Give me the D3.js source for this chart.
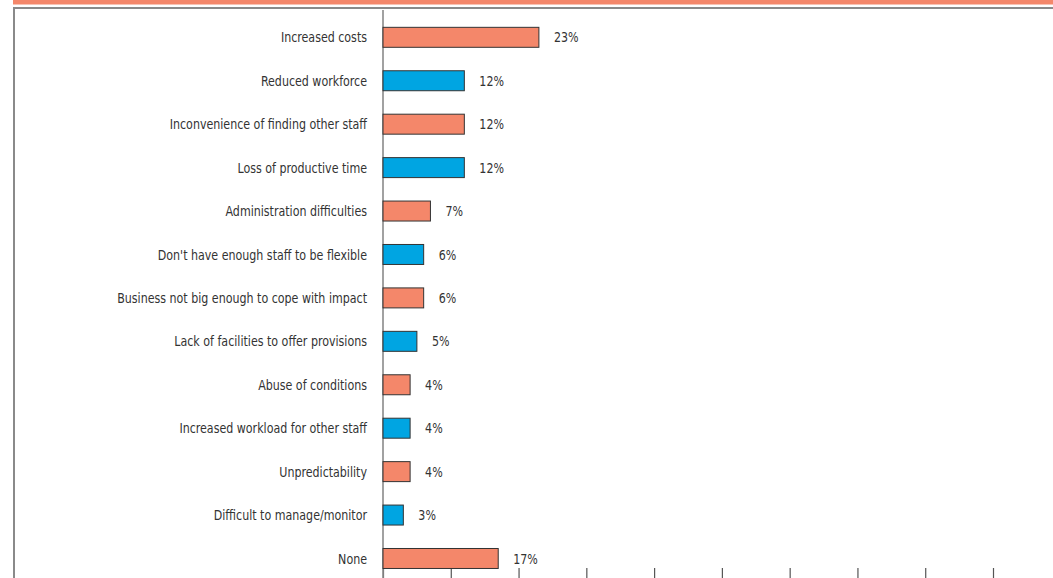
<!DOCTYPE html>
<html>
<head>
<meta charset="utf-8">
<script src="https://cdn.jsdelivr.net/npm/d3@7"></script>
<style>
  html, body { margin: 0; padding: 0; background: #fff; }
  svg { display: block; }
  text { font-family: "DejaVu Sans Condensed", "Liberation Sans Narrow", sans-serif; fill: #333; }
</style>
</head>
<body>
<svg id="chart" width="1053" height="578"></svg>
<script>
// Reasons / impacts, top to bottom
const categories = [
  "Increased costs",
  "Reduced workforce",
  "Inconvenience of finding other staff",
  "Loss of productive time",
  "Administration difficulties",
  "Don't have enough staff to be flexible",
  "Business not big enough to cope with impact",
  "Lack of facilities to offer provisions",
  "Abuse of conditions",
  "Increased workload for other staff",
  "Unpredictability",
  "Difficult to manage/monitor",
  "None"
];
const values = [23, 12, 12, 12, 7, 6, 6, 5, 4, 4, 4, 3, 17];
const xTicks = [0, 10, 20, 30, 40, 50, 60, 70, 80, 90];
const palette = ["#F4876A", "#00A5E2"];

const svg = d3.select("#chart");
const W = 1053, H = 578;
const squeeze = 0.88; // narrow the condensed face a little further

// frame: orange band, grey rule and left border
svg.append("rect").attr("x", 13).attr("y", 0).attr("width", W - 13).attr("height", 4.5).attr("fill", "#F4876A");
svg.append("rect").attr("x", 13).attr("y", 7).attr("width", W - 13).attr("height", 2).attr("fill", "#8a8a8a");
svg.append("rect").attr("x", 13).attr("y", 7).attr("width", 2).attr("height", H - 7).attr("fill", "#8a8a8a");

const x = d3.scaleLinear().domain([0, 90]).range([383, 993]);
const y = d3.scaleBand().domain(categories).range([15.6, 580.2]).paddingInner(0.54).paddingOuter(0.27);

// bottom tick marks (labels fall below the visible area)
const xAxis = d3.axisBottom(x).tickValues(xTicks).tickSize(12).tickFormat("");
const gx = svg.append("g").attr("transform", "translate(0,568)").call(xAxis);
gx.select(".domain").remove();
gx.selectAll(".tick line").attr("stroke", "#555").attr("stroke-width", 1.2);

// category axis
svg.append("line")
  .attr("x1", x(0)).attr("x2", x(0))
  .attr("y1", 10).attr("y2", H)
  .attr("stroke", "#8a8a8a").attr("stroke-width", 1.6);

const rows = svg.append("g").selectAll("g").data(categories).join("g");

rows.append("rect")
  .attr("x", x(0))
  .attr("y", d => y(d))
  .attr("width", (d, i) => x(values[i]) - x(0))
  .attr("height", y.bandwidth())
  .attr("fill", (d, i) => palette[i % 2])
  .attr("stroke", "#333")
  .attr("stroke-width", 1);

rows.append("text")
  .attr("transform", d => `translate(${x(0) - 16},${y(d) + y.bandwidth() / 2}) scale(${squeeze},1)`)
  .attr("dy", "0.36em")
  .attr("text-anchor", "end")
  .attr("font-size", 14)
  .text(d => d);

rows.append("text")
  .attr("transform", (d, i) => `translate(${x(values[i]) + 15},${y(d) + y.bandwidth() / 2}) scale(${squeeze},1)`)
  .attr("dy", "0.36em")
  .attr("font-size", 14)
  .text((d, i) => values[i] + "%");
</script>
</body>
</html>
